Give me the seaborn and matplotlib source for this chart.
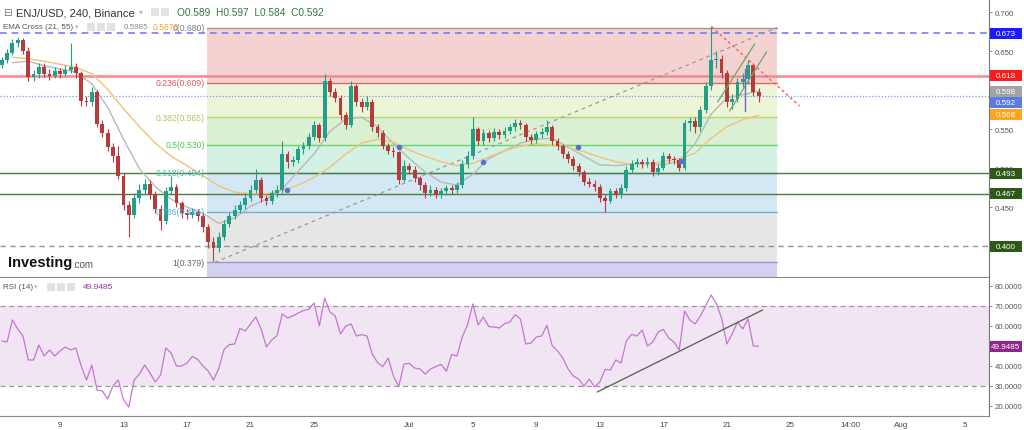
import numpy as np
import pandas as pd
import matplotlib
matplotlib.use("Agg")
import matplotlib.pyplot as plt
import matplotlib.dates as mdates
import matplotlib.transforms as mtransforms
from matplotlib.patches import Rectangle
import seaborn as sns

candle_start = "2022-06-05 08:00"
first_open = 0.632
closes = [
    0.638, 0.648, 0.660, 0.664, 0.650, 0.617, 0.620, 0.630, 0.621, 0.618,
    0.624, 0.621, 0.626, 0.630, 0.622, 0.586, 0.584, 0.598, 0.556, 0.545,
    0.527, 0.515, 0.490, 0.452, 0.440, 0.462, 0.472, 0.480, 0.465, 0.448,
    0.432, 0.470, 0.476, 0.455, 0.442, 0.440, 0.443, 0.438, 0.425, 0.405,
    0.398, 0.412, 0.428, 0.438, 0.446, 0.452, 0.462, 0.472, 0.484, 0.462,
    0.458, 0.468, 0.472, 0.518, 0.508, 0.510, 0.524, 0.528, 0.540, 0.555,
    0.538, 0.612, 0.598, 0.590, 0.568, 0.555, 0.605, 0.585, 0.578, 0.585,
    0.552, 0.545, 0.528, 0.522, 0.520, 0.485, 0.502, 0.498, 0.487, 0.478,
    0.468, 0.472, 0.466, 0.470, 0.474, 0.472, 0.478, 0.505, 0.515, 0.550,
    0.535, 0.545, 0.538, 0.546, 0.542, 0.548, 0.552, 0.558, 0.555, 0.540,
    0.536, 0.543, 0.546, 0.552, 0.535, 0.528, 0.518, 0.512, 0.502, 0.495,
    0.482, 0.480, 0.476, 0.462, 0.458, 0.470, 0.466, 0.474, 0.498, 0.505,
    0.508, 0.505, 0.508, 0.495, 0.500, 0.515, 0.512, 0.510, 0.500, 0.558,
    0.560, 0.552, 0.575, 0.605, 0.638, 0.640, 0.622, 0.585, 0.588, 0.610,
    0.614, 0.632, 0.598, 0.592]
highs = [
    0.642, 0.652, 0.666, 0.668, 0.667, 0.655, 0.626, 0.635, 0.634, 0.627,
    0.629, 0.628, 0.632, 0.660, 0.634, 0.625, 0.592, 0.604, 0.600, 0.562,
    0.550, 0.532, 0.528, 0.494, 0.458, 0.468, 0.480, 0.486, 0.484, 0.470,
    0.452, 0.476, 0.490, 0.480, 0.458, 0.448, 0.449, 0.447, 0.442, 0.428,
    0.412, 0.418, 0.433, 0.444, 0.452, 0.458, 0.468, 0.478, 0.499, 0.488,
    0.466, 0.472, 0.478, 0.535, 0.522, 0.516, 0.528, 0.533, 0.545, 0.560,
    0.558, 0.621, 0.615, 0.602, 0.594, 0.572, 0.612, 0.608, 0.590, 0.592,
    0.588, 0.556, 0.549, 0.532, 0.527, 0.522, 0.510, 0.507, 0.502, 0.490,
    0.482, 0.478, 0.476, 0.475, 0.478, 0.478, 0.482, 0.510, 0.522, 0.565,
    0.553, 0.550, 0.549, 0.551, 0.550, 0.553, 0.557, 0.563, 0.562, 0.558,
    0.544, 0.548, 0.551, 0.562, 0.555, 0.538, 0.531, 0.522, 0.516, 0.506,
    0.498, 0.487, 0.485, 0.479, 0.466, 0.475, 0.474, 0.479, 0.502, 0.510,
    0.513, 0.512, 0.514, 0.511, 0.505, 0.520, 0.519, 0.516, 0.513, 0.562,
    0.566, 0.565, 0.580, 0.610, 0.682, 0.650, 0.645, 0.626, 0.595, 0.615,
    0.622, 0.638, 0.635, 0.602]
lows = [
    0.628, 0.634, 0.645, 0.655, 0.646, 0.612, 0.611, 0.616, 0.617, 0.613,
    0.615, 0.616, 0.618, 0.622, 0.616, 0.580, 0.579, 0.580, 0.552, 0.540,
    0.522, 0.508, 0.486, 0.446, 0.412, 0.436, 0.455, 0.466, 0.460, 0.442,
    0.420, 0.428, 0.466, 0.450, 0.436, 0.434, 0.436, 0.432, 0.418, 0.398,
    0.381, 0.392, 0.408, 0.424, 0.434, 0.442, 0.448, 0.458, 0.468, 0.456,
    0.452, 0.454, 0.463, 0.468, 0.500, 0.503, 0.506, 0.518, 0.524, 0.536,
    0.533, 0.535, 0.592, 0.584, 0.562, 0.550, 0.552, 0.580, 0.572, 0.574,
    0.548, 0.540, 0.524, 0.518, 0.514, 0.480, 0.482, 0.492, 0.482, 0.472,
    0.462, 0.464, 0.462, 0.462, 0.466, 0.467, 0.468, 0.474, 0.500, 0.512,
    0.530, 0.530, 0.533, 0.534, 0.537, 0.538, 0.544, 0.548, 0.550, 0.535,
    0.531, 0.532, 0.539, 0.542, 0.530, 0.523, 0.513, 0.507, 0.497, 0.490,
    0.478, 0.476, 0.471, 0.457, 0.444, 0.455, 0.461, 0.462, 0.470, 0.494,
    0.501, 0.500, 0.501, 0.490, 0.491, 0.497, 0.507, 0.505, 0.496, 0.498,
    0.548, 0.545, 0.548, 0.570, 0.600, 0.628, 0.615, 0.578, 0.576, 0.584,
    0.604, 0.608, 0.592, 0.584]
rsi = [
    52.5, 52.0, 63.0, 58.5, 55.0, 43.0, 43.0, 50.5, 45.0, 48.0,
    45.0, 47.5, 49.5, 48.0, 49.0, 40.0, 33.0, 40.5, 28.0, 27.5,
    23.5, 30.0, 33.0, 23.0, 19.5, 33.0, 36.0, 40.5, 36.5, 32.0,
    35.5, 49.0, 46.5, 40.0, 40.0, 41.5, 44.8, 43.3, 40.0, 37.5,
    33.0, 38.8, 48.3, 50.7, 51.0, 58.8, 57.5, 61.0, 64.5, 58.5,
    49.5, 53.0, 55.2, 66.0, 64.0, 65.0, 66.5, 67.7, 68.3, 71.5,
    60.0, 74.0, 67.0, 65.0, 56.0, 60.0, 61.0, 55.0, 55.7, 55.0,
    46.0, 41.7, 39.7, 44.0, 35.0, 29.8, 41.0, 41.3, 39.0, 38.5,
    36.0, 38.5, 39.7, 40.8, 37.4, 45.8, 45.0, 54.5, 60.5, 71.0,
    60.5, 64.5, 59.7, 59.5, 59.0, 61.2, 62.0, 65.7, 63.5, 51.0,
    51.5, 54.5, 55.0, 60.3, 50.2, 47.5, 44.0, 38.5, 35.0, 33.5,
    29.8, 33.5, 29.5, 32.0, 38.3, 38.0, 43.0, 41.5, 52.5, 55.8,
    55.0, 58.0, 50.0, 52.0, 57.0, 58.3, 54.0, 52.0, 48.0, 67.5,
    63.0, 61.0, 65.0, 70.0, 75.5, 71.3, 64.0, 51.0, 56.0, 62.0,
    58.5, 63.5, 50.0, 49.9485]

# EMA lines, one value per day from June 6
ema_start = "2022-06-06"
ema21 = [0.635, 0.637, 0.631, 0.627, 0.623, 0.608, 0.578, 0.537, 0.499, 0.476,
         0.460, 0.450, 0.442, 0.429, 0.436, 0.451, 0.460, 0.473, 0.496, 0.518,
         0.547, 0.563, 0.565, 0.553, 0.531, 0.512, 0.495, 0.482, 0.478, 0.492,
         0.512, 0.522, 0.532, 0.537, 0.538, 0.527, 0.515, 0.504, 0.503, 0.505,
         0.506, 0.504, 0.509, 0.531, 0.569, 0.590, 0.594, 0.5985]
ema55 = [0.642, 0.640, 0.637, 0.633, 0.629, 0.621, 0.601, 0.576, 0.553, 0.532,
         0.515, 0.503, 0.490, 0.477, 0.469, 0.467, 0.467, 0.471, 0.478, 0.488,
         0.501, 0.518, 0.532, 0.537, 0.533, 0.523, 0.515, 0.508, 0.503, 0.506,
         0.514, 0.522, 0.528, 0.531, 0.529, 0.526, 0.521, 0.514, 0.508, 0.505,
         0.505, 0.508, 0.512, 0.519, 0.538, 0.553, 0.562, 0.5676]
cross_times = ["2022-06-23 07:00", "2022-06-30 08:00", "2022-07-05 15:00",
               "2022-07-11 15:00", "2022-07-18 03:00"]
cross_prices = [0.472, 0.527, 0.508, 0.527, 0.509]

# Fibonacci retracement
fib_start, fib_end = "2022-06-18 06:00", "2022-07-24 04:00"
fib_prices = [0.680, 0.609, 0.565, 0.530, 0.494, 0.444, 0.379]
fib_labels = ["0(0.680)", "0.236(0.609)", "0.382(0.565)", "0.5(0.530)",
              "0.618(0.494)", "0.786(0.444)", "1(0.379)"]
fib_fills = ["#f4d2d2", "#eef4d8", "#d9f0d3", "#d4f1e6", "#d4e7f4", "#e6e6e6", "#d3d0f0"]
fib_lines = ["#a09494", "#e06666", "#b9d56e", "#6cd46c", "#50b89c", "#6cb2e0", "#9c98c6"]
fib_text = ["#7a7a8a", "#e05858", "#a9ca52", "#4cc64c", "#45c2a2", "#5aaee0", "#666666"]

# drawn trend lines (time, value)
fib_diag = (["2022-06-18 18:00", "2022-07-24 04:00"], [0.379, 0.680])
red_trend = (["2022-07-20 01:00", "2022-07-25 14:00"], [0.681, 0.5795])
green_up = (["2022-07-20 10:00", "2022-07-22 18:00"], [0.5846, 0.659])
green_lo = (["2022-07-21 04:00", "2022-07-23 12:00"], [0.573, 0.649])
blue_tick = (["2022-07-22 03:00", "2022-07-22 03:00"], [0.627, 0.573])
rsi_trend = (["2022-07-12 20:00", "2022-07-23 06:00"], [27.0, 68.0])

# price tags on the right axis
tag_shown = [0.673, 0.618, 0.598, 0.5846, 0.568, 0.493, 0.467, 0.400]
tag_texts = ["0.673", "0.618", "0.598", "0.592", "0.568", "0.493", "0.467", "0.400"]
tag_colors = ["#1a1aff", "#ff1a1a", "#a3a3a3", "#5a7be2", "#ffa41c",
              "#2d5a1b", "#2d5a1b", "#2d5a1b"]

# axis ticks visible in the picture (the others sit under the tags)
price_ticks = [0.45, 0.50, 0.55, 0.65, 0.70]
rsi_ticks = [20, 30, 40, 60, 70, 80]
tick_dates = ["2022-06-09", "2022-06-13", "2022-06-17", "2022-06-21", "2022-06-25",
              "2022-07-01", "2022-07-05", "2022-07-09", "2022-07-13", "2022-07-17",
              "2022-07-21", "2022-07-25", "2022-07-28 19:00", "2022-08-01", "2022-08-05"]
tick_labels = ["9", "13", "17", "21", "25", "Jul", "5", "9", "13", "17",
               "21", "25", "14:00", "Aug", "5"]

# ---- figure ----
sns.set_style("white")
plt.rcParams['font.family'] = ['Liberation Sans', 'DejaVu Sans']

W, H = 1024, 431
fig = plt.figure(figsize=(W / 100, H / 100), dpi=100)
ax = fig.add_axes([0, 1 - 278 / H, 989 / W, 278 / H])
ax2 = fig.add_axes([0, 1 - 417 / H, 989 / W, 138 / H])


def num(s):
    return mdates.date2num(pd.Timestamp(s))


t = mdates.date2num(pd.date_range(candle_start, periods=len(closes), freq="8h").to_pydatetime())
t_ema = mdates.date2num(pd.date_range(ema_start, periods=len(ema21), freq="D").to_pydatetime())
x0, x1 = num("2022-06-05 05:17"), num("2022-08-06 12:14")
fx0, fx1 = num(fib_start), num(fib_end)
ylo, yhi = 0.36026, 0.71667

# fib zones
edges = fib_prices + [ylo]
for i in range(len(fib_prices)):
    ax.fill_between([fx0, fx1], edges[i], edges[i + 1], color=fib_fills[i], lw=0, zorder=0)
for p, lab, lc, tc in zip(fib_prices, fib_labels, fib_lines, fib_text):
    ax.plot([fx0, fx1], [p, p], color=lc, lw=1.0, zorder=1)
    ax.annotate(lab, (fx0, p), xytext=(-1.5, 0), textcoords="offset points",
                ha="right", va="center", fontsize=6.2, color=tc, zorder=7)

# full width horizontal levels
ax.axhline(0.673, color="#7b7bef", lw=1.2, ls=(0, (4, 3)), zorder=2)
ax.axhline(0.618, color="#f28b8b", lw=1.8, zorder=2)
ax.axhline(0.592, color="#7b9be8", lw=0.9, ls=(0, (1, 1.5)), zorder=2)
ax.axhline(0.493, color="#4f7a42", lw=1.0, zorder=2)
ax.axhline(0.467, color="#4f7a42", lw=1.0, zorder=2)
ax.axhline(0.400, color="#8d9b84", lw=1.0, ls=(0, (4, 3)), zorder=2)

# trend drawings
ax.plot([num(s) for s in fib_diag[0]], fib_diag[1], color="#9a9a9a", lw=0.9, ls=(0, (3, 3)), zorder=2)
ax.plot([num(s) for s in red_trend[0]], red_trend[1], color="#f06060", lw=1.0, ls=(0, (2, 2)), zorder=6)
ax.plot([num(s) for s in green_up[0]], green_up[1], color="#6aa86a", lw=0.9, zorder=6)
ax.plot([num(s) for s in green_lo[0]], green_lo[1], color="#6aa86a", lw=0.9, zorder=6)
ax.plot([num(s) for s in blue_tick[0]], blue_tick[1], color="#6a6acd", lw=1.0, zorder=6)

# EMA lines
sns.lineplot(x=t_ema, y=ema21, ax=ax, color="#b9b9b9", lw=1.0, zorder=3)
sns.lineplot(x=t_ema, y=ema55, ax=ax, color="#f4c07a", lw=1.0, zorder=3)
ax.scatter([num(s) for s in cross_times], cross_prices, s=9, color="#5b6fd6", zorder=6)

# candles
c = np.array(closes)
o = np.array([first_open] + closes[:-1])
col = np.where(c >= o, "#22a085", "#b83b3b")
ax.vlines(t, lows, highs, colors=col, lw=0.8, zorder=4)
ax.bar(t, np.maximum(np.abs(c - o), 0.0008), bottom=np.minimum(o, c), width=0.24,
       color=col, lw=0, zorder=5)

# RSI pane
ax2.axhspan(30, 70, color="#f1e4f3", lw=0, zorder=0)
for lv in (70, 30):
    ax2.axhline(lv, color="#9a9a9a", lw=0.9, ls=(0, (4, 3)), zorder=1)
sns.lineplot(x=t, y=rsi, ax=ax2, color="#c477cf", lw=0.9, zorder=3)
ax2.plot([num(s) for s in rsi_trend[0]], rsi_trend[1], color="#5d6b58", lw=1.0, zorder=4)

# axes styling
for a in (ax, ax2):
    a.set_facecolor("white")
    a.spines["top"].set_visible(False)
    a.spines["left"].set_visible(False)
    a.spines["right"].set_color("#777777")
    a.spines["right"].set_linewidth(0.8)
    a.spines["bottom"].set_color("#8a8a8a")
    a.spines["bottom"].set_linewidth(0.8)
    a.yaxis.tick_right()
    a.tick_params(axis="y", length=2.5, width=0.6, color="#777777",
                  labelsize=5.6, labelcolor="#555555", pad=1.5)
    a.set_xlabel("")
    a.set_ylabel("")

ax.set_xticks([])
ax.set_yticks(price_ticks)
ax.set_yticklabels([f"{v:.3f}" for v in price_ticks])
ax2.set_yticks(rsi_ticks)
ax2.set_yticklabels([f"{v:.4f}" for v in rsi_ticks])
ax2.set_xticks([num(s) for s in tick_dates])
ax2.set_xticklabels(tick_labels)
ax2.tick_params(axis="x", length=2.5, width=0.6, color="#888888",
                labelsize=5.8, labelcolor="#444444", pad=1.2)


def tag(axis, yc, text, color, px_per_unit):
    h = 11 / px_per_unit
    tr = mtransforms.blended_transform_factory(axis.transAxes, axis.transData)
    axis.add_patch(Rectangle((1.0008, yc - h / 2), 32 / 989, h, transform=tr,
                             facecolor=color, edgecolor="none", clip_on=False, zorder=20))
    axis.text(1.0008 + 16 / 989, yc, text, transform=tr, ha="center", va="center",
              fontsize=5.8, color="white", clip_on=False, zorder=21)


for yv, txt, colr in zip(tag_shown, tag_texts, tag_colors):
    tag(ax, yv, txt, colr, 780)
tag(ax2, rsi[-1], f"{rsi[-1]:.4f}", "#8e248e", 2)

ax.set_xlim(x0, x1)
ax.set_ylim(ylo, yhi)
ax2.set_xlim(x0, x1)
ax2.set_ylim(15, 84)


# header texts and small icon boxes (pixel positions)
def ftext(x, y, s, **kw):
    fig.text(x / W, 1 - y / H, s, va="center", **kw)


def fbox(x, y, w=8, h=8):
    fig.add_artist(Rectangle((x / W, 1 - (y + h / 2) / H), w / W, h / H,
                             transform=fig.transFigure, facecolor="#e2e2e2",
                             edgecolor="none", zorder=30))


ftext(3, 13, "⊟", fontsize=7.5, color="#777777")
ftext(16, 13, "ENJ/USD, 240, Binance", fontsize=8, color="#333333")
ftext(139, 13, "▾", fontsize=5.5, color="#bbbbbb")
for bx in (151, 161):
    fbox(bx, 13)
ftext(177, 13, "O0.589  H0.597  L0.584  C0.592", fontsize=7.3, color="#2f7a44")

ftext(3, 28, "EMA Cross (21, 55)", fontsize=5.8, color="#555555")
ftext(75, 28, "▾", fontsize=5, color="#bbbbbb")
for bx in (87, 97, 107):
    fbox(bx, 28)
ftext(124, 28, "0.5985", fontsize=5.8, color="#8a8a8a")
ftext(153, 28, "0.5676", fontsize=6.2, color="#f5a623")

ftext(3, 288, "RSI (14)", fontsize=5.8, color="#555555")
ftext(34, 288, "▾", fontsize=5, color="#bbbbbb")
for bx in (47, 57, 67):
    fbox(bx, 288)
ftext(83, 288, "49.9485", fontsize=6, color="#9c27b0")

ftext(8, 263, "Investing", fontsize=10.5, fontweight="bold", color="#111111")
ftext(72, 265, ".com", fontsize=7, color="#555555")

fig.savefig("out.png", dpi=100)
